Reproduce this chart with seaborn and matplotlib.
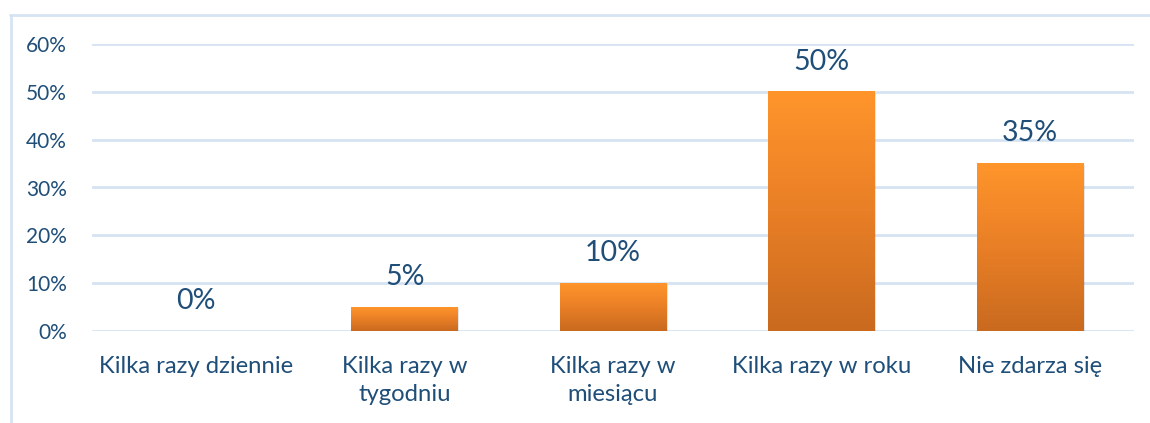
import numpy as np
import pandas as pd
import matplotlib
matplotlib.use("Agg")
import matplotlib.pyplot as plt
from matplotlib.colors import LinearSegmentedColormap
from matplotlib.lines import Line2D
import seaborn as sns

categories = ["Kilka razy dziennie", "Kilka razy w\ntygodniu", "Kilka razy w\nmiesiącu",
              "Kilka razy w roku", "Nie zdarza się"]
values = [0, 5, 10, 50, 35]
yticks = [0, 10, 20, 30, 40, 50, 60]

sns.set_theme(style="white")
plt.rcParams['font.family'] = ['Lato', 'DejaVu Sans']

TXT = "#1F4E79"
GRID = "#D6E3F3"

df = pd.DataFrame({"cat": categories, "val": values})

fig = plt.figure(figsize=(11.5, 4.23), dpi=100)
ax = fig.add_axes([92/1150, 1 - 331/423, (1134-92)/1150, (331-44)/423])

sns.barplot(data=df, x="cat", y="val", ax=ax, color="#F28A26", width=0.51,
            saturation=1, edgecolor="none", zorder=3)
ax.set_ylim(0, 60)
ax.set_xlim(-0.5, len(categories) - 0.5)
ax.set_yticks(yticks)
ax.set_yticklabels([f"{t}%" for t in yticks])
ax.grid(axis="y", color=GRID, linewidth=2, zorder=0)
ax.grid(axis="x", visible=False)
for s in ax.spines.values():
    s.set_visible(False)
ax.set_xlabel("")
ax.set_ylabel("")
ax.tick_params(axis="y", length=0, pad=18, labelsize=15, labelcolor=TXT)
ax.tick_params(axis="x", length=0, pad=18, labelsize=17.2, labelcolor=TXT)
for lbl in ax.get_xticklabels():
    lbl.set_linespacing(1.42)
    lbl.set_verticalalignment("top")

cmap = LinearSegmentedColormap.from_list("g", ["#C96A1F", "#E97F26", "#FF952B"])
grad = np.linspace(0, 1, 256).reshape(-1, 1)
for p, v in zip(ax.patches, values):
    x0, w, h = p.get_x(), p.get_width(), p.get_height()
    p.set_facecolor("none")
    if h > 0:
        sh = plt.Rectangle((x0 + 0.008, 0), w, h - 0.2, facecolor="#000000", alpha=0.10,
                           edgecolor="none", zorder=2.5)
        ax.add_patch(sh)
        ax.imshow(grad, cmap=cmap, aspect="auto", origin="lower",
                  extent=(x0, x0 + w, 0, h), zorder=3, interpolation="bilinear")
    ax.text(p.get_x() + w / 2, h + 6.3, f"{v}%", ha="center", va="center",
            fontsize=20.5, color=TXT, zorder=4)
ax.set_xlim(-0.5, len(categories) - 0.5)
ax.set_ylim(0, 60)

fig.add_artist(Line2D([10.5/1150, 10.5/1150], [0, 1 - 15/423], color=GRID, linewidth=2,
                      transform=fig.transFigure))
fig.add_artist(Line2D([10/1150, 1], [1 - 15/423, 1 - 15/423], color=GRID, linewidth=2,
                      transform=fig.transFigure))

fig.savefig("out.png", dpi=100, facecolor="white")
